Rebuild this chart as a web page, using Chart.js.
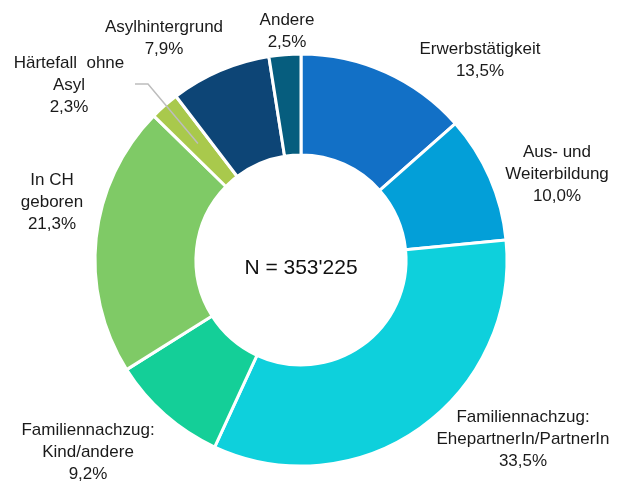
<!DOCTYPE html>
<html>
<head>
<meta charset="utf-8">
<script src="https://cdn.jsdelivr.net/npm/chart.js@4.4.0/dist/chart.umd.min.js"></script>
<style>
  html, body { margin: 0; padding: 0; background: #fff; }
  #wrap { width: 617px; height: 483px; position: relative; }
</style>
</head>
<body>
<div id="wrap"><canvas id="myDoughnut"></canvas></div>
<script>
// Daten
const categories = [
  ["Erwerbstätigkeit"],
  ["Aus- und", "Weiterbildung"],
  ["Familiennachzug:", "EhepartnerIn/PartnerIn"],
  ["Familiennachzug:", "Kind/andere"],
  ["In CH", "geboren"],
  ["Härtefall  ohne", "Asyl"],
  ["Asylhintergrund"],
  ["Andere"]
];
const shares = [13.5, 10.0, 33.5, 9.2, 21.3, 2.3, 7.9, 2.5];
const totalLabel = "N = 353'225";

const colors = ["#1270c6", "#039fd8", "#0ed0dc", "#14cf98", "#7fca66", "#a9c94c", "#0d4576", "#065d7e"];

// Position der Beschriftungen (Mitte der ersten Zeile)
const labelPos = [
  [480, 49], [557, 152], [523, 417], [88, 430],
  [52, 180], [69, 63], [164, 27], [287, 20]
];

function fmt(v) {
  return v.toFixed(1).replace(".", ",") + "%";
}

const labelPlugin = {
  id: "labels",
  afterDatasetsDraw(chart) {
    const ctx = chart.ctx;
    const meta = chart.getDatasetMeta(0);
    ctx.save();
    ctx.fillStyle = "#1a1a1a";
    ctx.font = "17px 'Liberation Sans', Arial, sans-serif";
    ctx.textAlign = "center";
    ctx.textBaseline = "middle";
    categories.forEach((lines, i) => {
      const [x, y] = labelPos[i];
      const all = lines.concat([fmt(shares[i])]);
      all.forEach((t, k) => ctx.fillText(t, x, y + k * 22));
    });

    // Führungslinie Härtefall
    const arc = meta.data[5];
    const p = arc.tooltipPosition();
    ctx.strokeStyle = "#bdbdbd";
    ctx.lineWidth = 1.5;
    ctx.beginPath();
    ctx.moveTo(135, 84);
    ctx.lineTo(148, 84);
    ctx.lineTo(p.x, p.y);
    ctx.stroke();

    // Mitte
    const c = meta.data[0];
    ctx.font = "21px 'Liberation Sans', Arial, sans-serif";
    ctx.fillStyle = "#111";
    ctx.fillText(totalLabel, c.x, c.y + 8);
    ctx.restore();
  }
};

const ctx = document.getElementById("myDoughnut").getContext("2d");
const myDoughnut = new Chart(ctx, {
  type: "doughnut",
  data: {
    labels: categories.map(l => l.join(" ")),
    datasets: [{
      data: shares,
      backgroundColor: colors,
      borderColor: "#ffffff",
      borderWidth: 3
    }]
  },
  options: {
    responsive: true,
    maintainAspectRatio: false,
    animation: false,
    cutout: "51%",
    layout: {
      padding: { top: 52.5, bottom: 15.5, left: 93.5, right: 108.5 }
    },
    plugins: {
      legend: { display: false },
      tooltip: { enabled: false }
    }
  },
  plugins: [labelPlugin]
});
</script>
</body>
</html>
